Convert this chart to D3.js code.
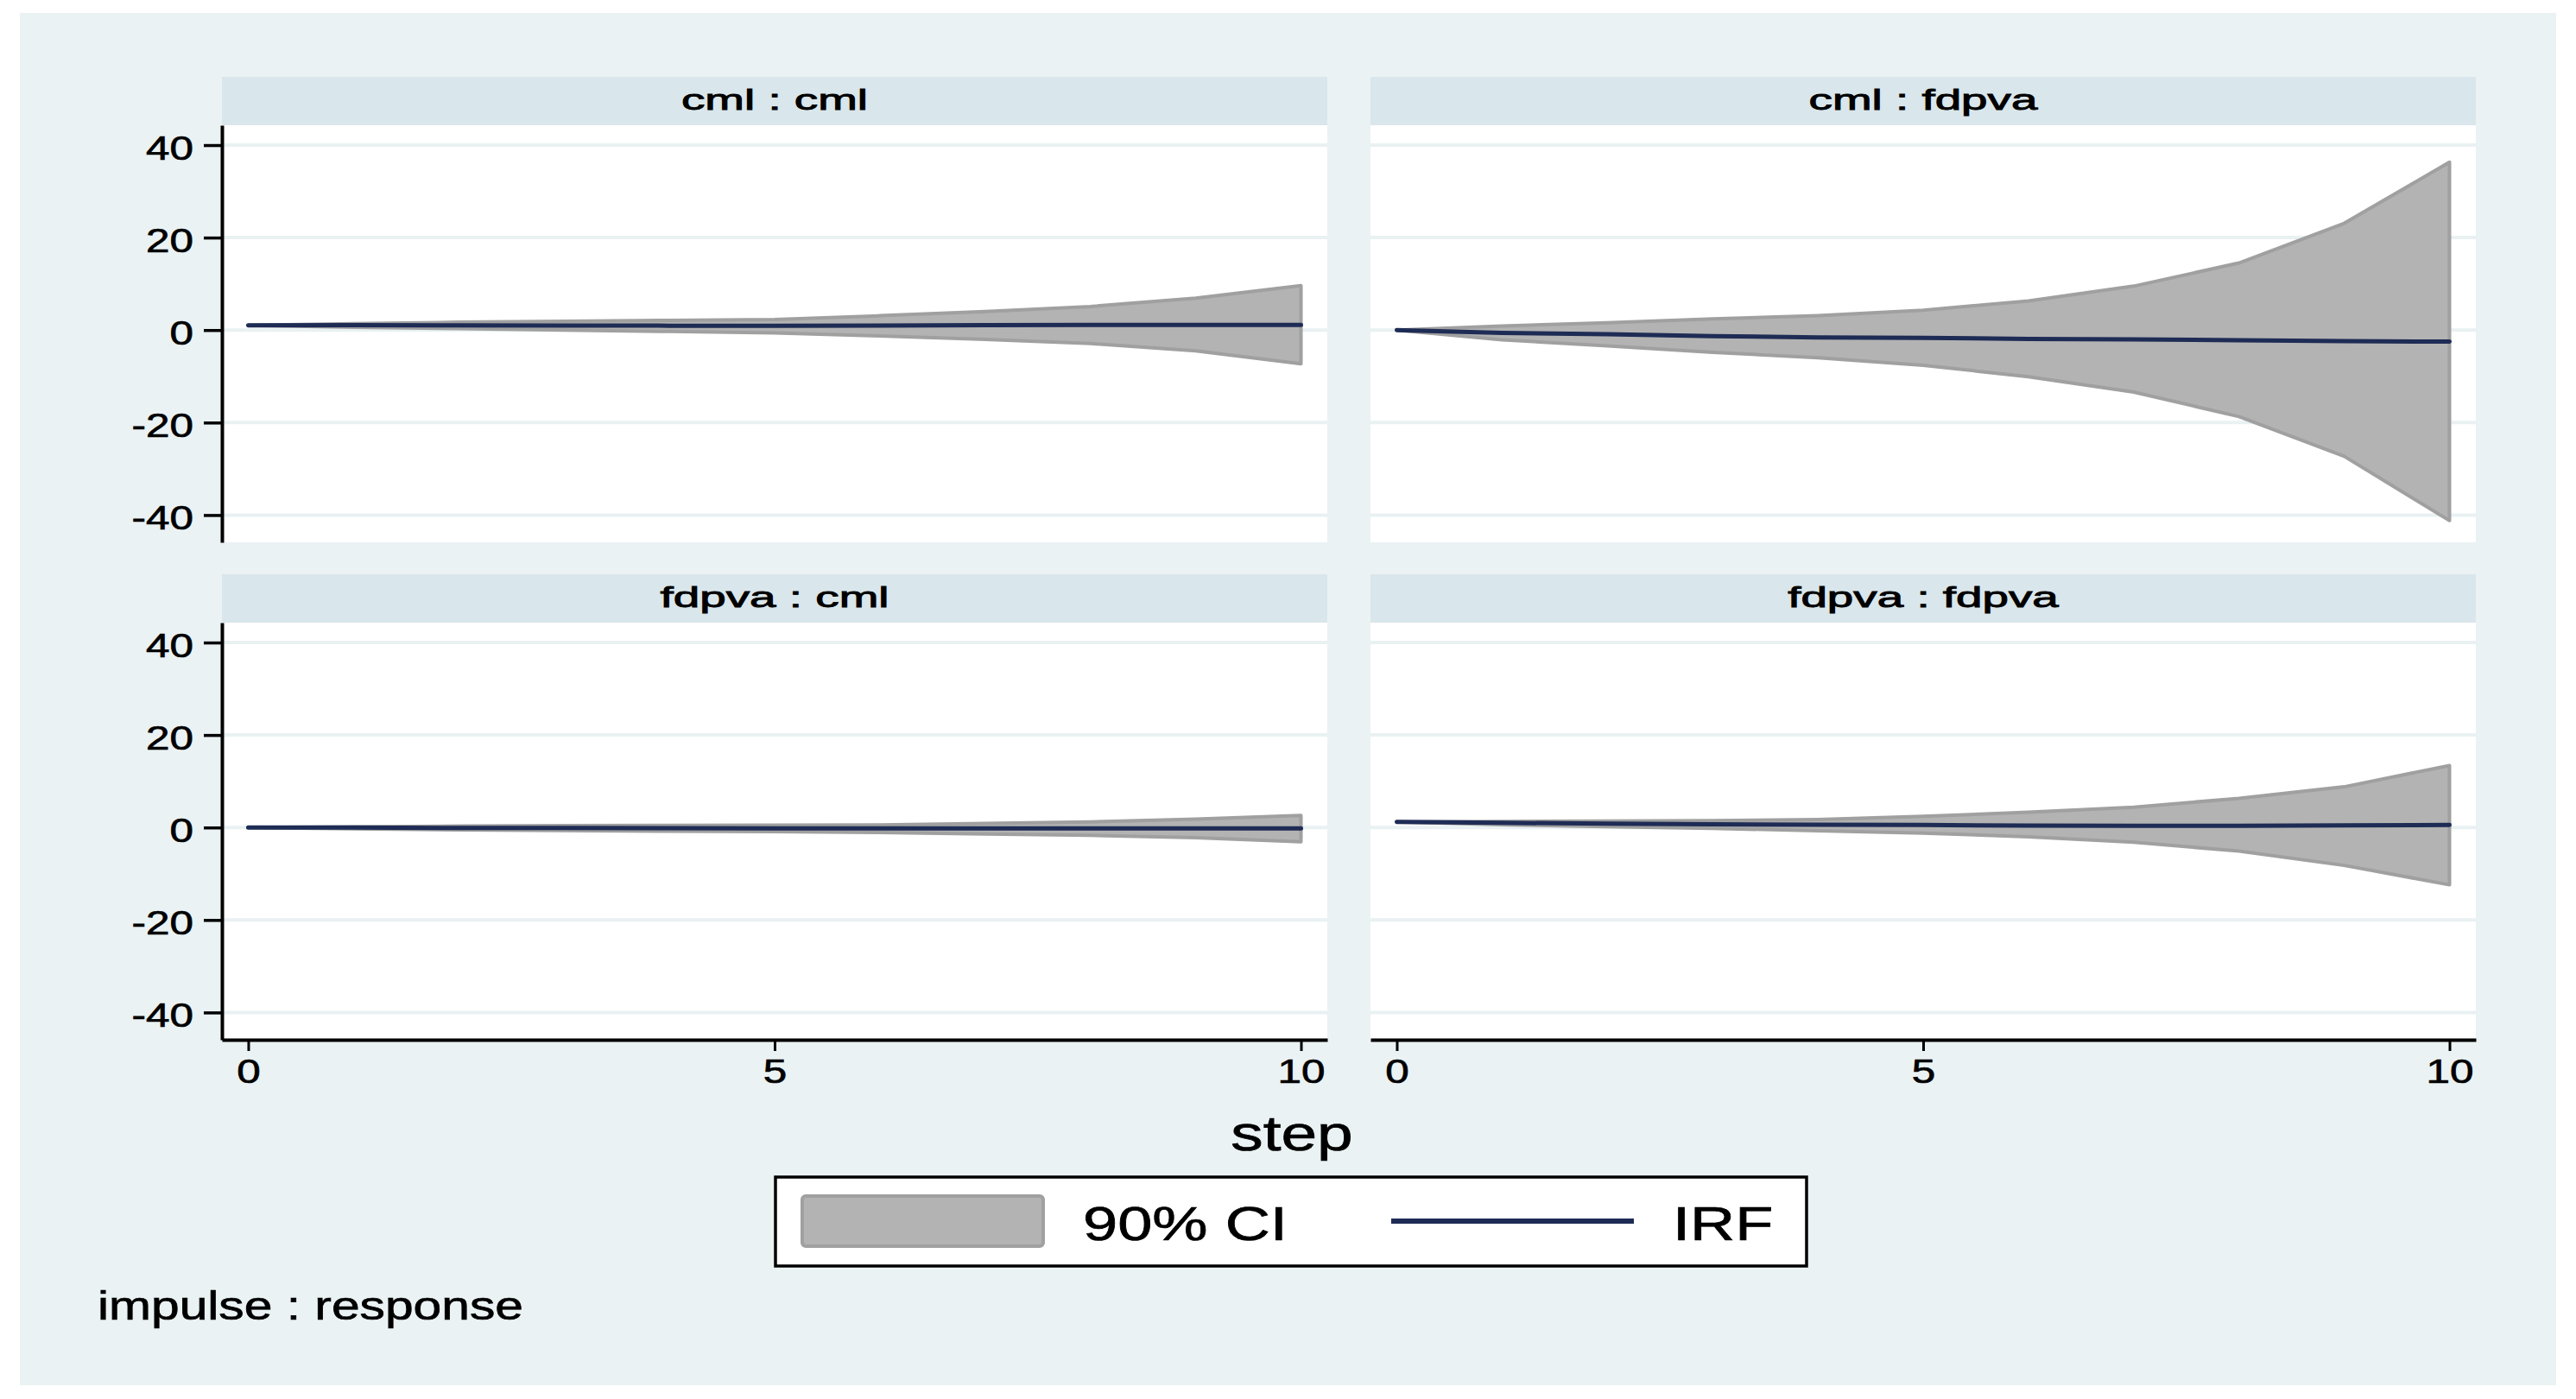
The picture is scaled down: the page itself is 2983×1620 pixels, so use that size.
<!DOCTYPE html>
<html>
<head>
<meta charset="utf-8">
<script src="https://cdn.jsdelivr.net/npm/d3@7"></script>
<style>
  body { margin: 0; background: #ffffff; }
  text { font-family: "Liberation Sans", Arial, Helvetica, sans-serif; fill: #000; stroke: #000; stroke-width: 0.7px; }
</style>
</head>
<body>
<div id="wrapper"></div>
<script>
// impulse : response panels, steps 0..10
const steps = [0, 1, 2, 3, 4, 5, 6, 7, 8, 9, 10];
const panelTitles = ["cml : cml", "cml : fdpva", "fdpva : cml", "fdpva : fdpva"];

const irfCmlCml = [1.0, 1.05, 1.0, 0.98, 0.95, 0.95, 0.97, 1.05, 1.1, 1.12, 1.12];
const hiCmlCml  = [1.0, 1.4, 1.7, 1.9, 2.1, 2.3, 3.1, 4.0, 5.1, 6.9, 9.6];
const loCmlCml  = [1.0, 0.6, 0.3, 0.0, -0.3, -0.6, -1.25, -2.0, -2.9, -4.5, -7.3];

const irfCmlFdpva = [0, -0.6, -0.9, -1.3, -1.6, -1.7, -1.9, -2.0, -2.2, -2.4, -2.5];
const hiCmlFdpva  = [0, 0.9, 1.6, 2.4, 3.1, 4.3, 6.3, 9.5, 14.5, 23.1, 36.3];
const loCmlFdpva  = [0, -2.1, -3.4, -4.8, -6.0, -7.6, -10.1, -13.4, -18.7, -27.3, -41.2];

const irfFdpvaCml = [0, 0, -0.1, -0.1, -0.15, -0.2, -0.2, -0.2, -0.2, -0.2, -0.2];
const hiFdpvaCml  = [0, 0.15, 0.3, 0.4, 0.45, 0.5, 0.55, 0.9, 1.2, 1.8, 2.6];
const loFdpvaCml  = [0, -0.3, -0.5, -0.65, -0.8, -0.9, -1.1, -1.4, -1.7, -2.2, -3.1];

const irfFdpvaFdpva = [1.2, 1.0, 0.85, 0.7, 0.6, 0.55, 0.4, 0.35, 0.35, 0.45, 0.55];
const hiFdpvaFdpva  = [1.2, 1.3, 1.4, 1.5, 1.7, 2.4, 3.3, 4.4, 6.3, 8.8, 13.4];
const loFdpvaFdpva  = [1.2, 0.6, 0.2, -0.2, -0.7, -1.2, -2.0, -3.2, -5.1, -8.2, -12.4];

const yTicks = [-40, -20, 0, 20, 40];
const yTickLabels = ["-40", "-20", "0", "20", "40"];
const xTicks = [0, 5, 10];
const xTickLabels = ["0", "5", "10"];

const legendLabels = ["90% CI", "IRF"];
const xAxisTitle = "step";
const noteText = "impulse : response";

function drawIrfChart() {
    const series = [
        { irf: irfCmlCml, hi: hiCmlCml, lo: loCmlCml },
        { irf: irfCmlFdpva, hi: hiCmlFdpva, lo: loCmlFdpva },
        { irf: irfFdpvaCml, hi: hiFdpvaCml, lo: loFdpvaCml },
        { irf: irfFdpvaFdpva, hi: hiFdpvaFdpva, lo: loFdpvaFdpva },
    ];

    const dimensions = {
        width: 2983,
        height: 1620,
        colLeft: [257, 1587],
        plotWidth: 1280,
        rowTop: [89, 665],      // header strip top
        headerHeight: 56,
        plotHeight: 483,
    };

    const colors = {
        outer: "#eaf2f3",
        header: "#d9e6eb",
        grid: "#e9f1f2",
        ciFill: "#b3b3b3",
        ciStroke: "#a0a0a0",
        irf: "#1e2c55",
    };

    const svg = d3.select("#wrapper")
        .append("svg")
            .attr("width", dimensions.width)
            .attr("height", dimensions.height);

    svg.append("rect")
        .attr("x", 23).attr("y", 15)
        .attr("width", 2937).attr("height", 1589)
        .attr("fill", colors.outer);

    // step axis runs a little past 0 and 10 on both sides
    const xDomain = [-0.25, 10.25];
    const yDomain = [-45.9, 44.3];

    series.forEach((s, i) => {
        const row = Math.floor(i / 2);
        const col = i % 2;
        const left = dimensions.colLeft[col];
        const right = left + dimensions.plotWidth;
        const headTop = dimensions.rowTop[row];
        const top = headTop + dimensions.headerHeight;
        const bottom = top + dimensions.plotHeight;

        const xScale = d3.scaleLinear().domain(xDomain).range([left, right]);
        const yScale = d3.scaleLinear().domain(yDomain).range([bottom, top]);

        const panel = svg.append("g");

        panel.append("rect")
            .attr("x", left).attr("y", headTop)
            .attr("width", dimensions.plotWidth).attr("height", dimensions.headerHeight)
            .attr("fill", colors.header);

        panel.append("text")
            .attr("transform", `translate(${(left + right) / 2},${headTop + 38}) scale(1.66,1)`)
            .attr("text-anchor", "middle")
            .attr("font-size", 33)
            .style("stroke-width", "0.9px")
            .text(panelTitles[i]);

        panel.append("rect")
            .attr("x", left).attr("y", top)
            .attr("width", dimensions.plotWidth).attr("height", dimensions.plotHeight)
            .attr("fill", "#ffffff");

        panel.append("g")
            .selectAll("line")
            .data(yTicks)
            .join("line")
                .attr("x1", left).attr("x2", right)
                .attr("y1", d => yScale(d)).attr("y2", d => yScale(d))
                .attr("stroke", colors.grid)
                .attr("stroke-width", 4);

        const points = steps.map((st, k) => ({ step: st, irf: s.irf[k], hi: s.hi[k], lo: s.lo[k] }));

        const areaGenerator = d3.area()
            .x(d => xScale(d.step))
            .y0(d => yScale(d.lo))
            .y1(d => yScale(d.hi));

        panel.append("path")
            .attr("d", areaGenerator(points))
            .attr("fill", colors.ciFill)
            .attr("stroke", colors.ciStroke)
            .attr("stroke-width", 4)
            .attr("stroke-linejoin", "round");

        const lineGenerator = d3.line()
            .x(d => xScale(d.step))
            .y(d => yScale(d.irf));

        panel.append("path")
            .attr("d", lineGenerator(points))
            .attr("fill", "none")
            .attr("stroke", colors.irf)
            .attr("stroke-width", 5)
            .attr("stroke-linecap", "round");

        if (col === 0) {
            const yAxisGenerator = d3.axisLeft(yScale)
                .tickValues(yTicks)
                .tickFormat((d, k) => yTickLabels[k])
                .tickSize(21)
                .tickSizeOuter(0);

            panel.append("g")
                .attr("transform", `translate(${left},0)`)
                .call(yAxisGenerator)
                .call(g => g.attr("font-family", null).attr("font-size", null))
                .call(g => g.select(".domain").attr("stroke-width", 4))
                .call(g => g.selectAll(".tick line").attr("stroke-width", 3.5))
                .call(g => g.selectAll(".tick text")
                    .attr("x", 0)
                    .attr("dy", "0.43em")
                    .attr("font-size", 38)
                    .attr("transform", "translate(-33,0) scale(1.3,1)"));
        }

        if (row === 1) {
            const xAxisGenerator = d3.axisBottom(xScale)
                .tickValues(xTicks)
                .tickFormat((d, k) => xTickLabels[k])
                .tickSize(13)
                .tickSizeOuter(0);

            panel.append("g")
                .attr("transform", `translate(0,${bottom})`)
                .call(xAxisGenerator)
                .call(g => g.attr("font-family", null).attr("font-size", null))
                .call(g => g.select(".domain").attr("stroke-width", 4))
                .call(g => g.selectAll(".tick line").attr("stroke-width", 3))
                .call(g => g.selectAll(".tick text")
                    .attr("y", 0)
                    .attr("dy", null)
                    .attr("font-size", 38)
                    .attr("transform", "translate(0,50) scale(1.3,1)"));
        }
    });

    svg.append("text")
        .attr("transform", "translate(1496,1332) scale(1.29,1)")
        .attr("text-anchor", "middle")
        .attr("font-size", 58)
        .text(xAxisTitle);

    // legend
    const legend = svg.append("g");
    legend.append("rect")
        .attr("x", 898).attr("y", 1363)
        .attr("width", 1194).attr("height", 103)
        .attr("fill", "#ffffff")
        .attr("stroke", "#000")
        .attr("stroke-width", 3.5);
    legend.append("rect")
        .attr("x", 929).attr("y", 1385)
        .attr("width", 279).attr("height", 58)
        .attr("rx", 4)
        .attr("fill", colors.ciFill)
        .attr("stroke", colors.ciStroke)
        .attr("stroke-width", 4);
    legend.append("text")
        .attr("transform", "translate(1254,1436) scale(1.29,1)")
        .attr("font-size", 56)
        .text(legendLabels[0]);
    legend.append("line")
        .attr("x1", 1611).attr("x2", 1892)
        .attr("y1", 1414).attr("y2", 1414)
        .attr("stroke", colors.irf)
        .attr("stroke-width", 6);
    legend.append("text")
        .attr("transform", "translate(1937,1436) scale(1.29,1)")
        .attr("font-size", 56)
        .text(legendLabels[1]);

    svg.append("text")
        .attr("transform", "translate(113,1528) scale(1.25,1)")
        .attr("font-size", 47)
        .text(noteText);
}

drawIrfChart();
</script>
</body>
</html>
